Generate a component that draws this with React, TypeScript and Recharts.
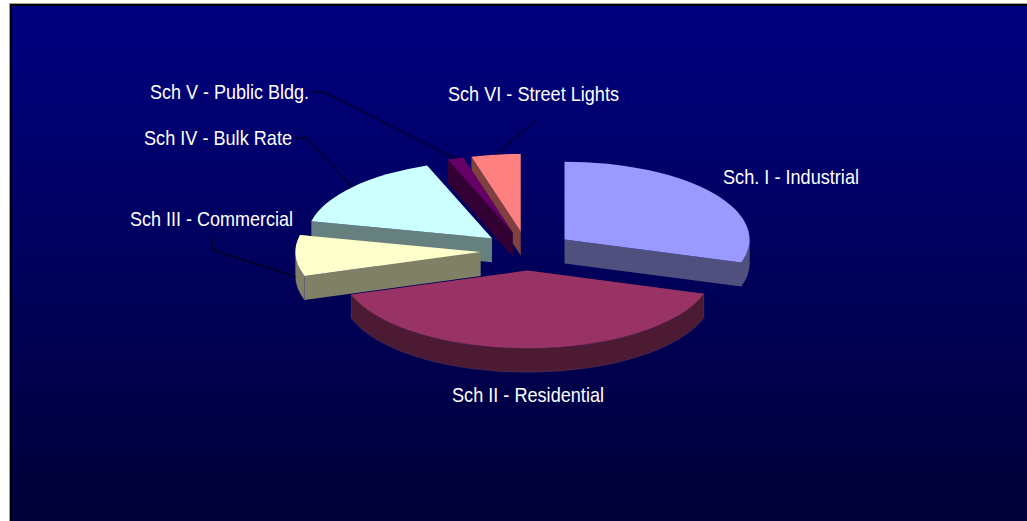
import { PieChart, Pie } from 'recharts';

// Order runs counter-clockwise from 12 o'clock, so back slices paint first
const names = [
    'Sch VI - Street Lights',
    'Sch V - Public Bldg.',
    'Sch IV - Bulk Rate',
    'Sch III - Commercial',
    'Sch II - Residential',
    'Sch. I - Industrial',
];
const shares = [4.3, 1.4, 15.8, 8.5, 40.2, 29.8];
const topColors = ['#ff8080', '#660066', '#ccffff', '#ffffcc', '#993366', '#9999ff'];
const wallColors = ['#804040', '#330033', '#668080', '#808066', '#4d1a33', '#50507f'];

// Label layout: left x, baseline y, width, then the leader elbow if there is one
const labelLayout: Record<string, { x: number; y: number; w: number; line?: number[][] }> = {
    'Sch VI - Street Lights': { x: 448, y: 101, w: 171, line: [[536, 120]] },
    'Sch V - Public Bldg.': { x: 150, y: 99, w: 159, line: [[323, 92], [312, 92]] },
    'Sch IV - Bulk Rate': { x: 144, y: 145, w: 148, line: [[306, 138], [296, 138]] },
    'Sch III - Commercial': { x: 130, y: 226, w: 163, line: [[212, 250], [212, 238]] },
    'Sch II - Residential': { x: 452, y: 402, w: 152 },
    'Sch. I - Industrial': { x: 723, y: 184, w: 136 },
};

const CX = 527;
const CY = 251;
const RX = 185;
const TILT = 0.42;
const DEPTH = 24;
const EXPLODE = 46.6;

const rad = (deg: number) => (deg * Math.PI) / 180;
const project = (deg: number, r: number) => [r * Math.cos(rad(deg)), -r * TILT * Math.sin(rad(deg))];

const chartData = names.map((name, i) => ({
    name,
    value: shares[i],
    fill: topColors[i],
    wall: wallColors[i],
}));

const Slice3D = (props: any) => {
    const { startAngle, endAngle, outerRadius, cx, cy, fill, payload } = props;
    const wall = payload?.wall ?? props.wall;
    const mid = (startAngle + endAngle) / 2;
    const [ox, oy] = project(mid, EXPLODE);
    const ry = outerRadius * TILT;
    const [x1, y1] = project(startAngle, outerRadius);
    const [x2, y2] = project(endAngle, outerRadius);
    const large = endAngle - startAngle > 180 ? 1 : 0;

    const cutWall = (x: number, y: number) => `M0,0 L${x},${y} L${x},${y + DEPTH} L0,${DEPTH} Z`;

    // The rim only shows on the part of the arc that faces the viewer
    const rims: string[] = [];
    [[180, 360], [540, 720]].forEach(([lo, hi]) => {
        const a = Math.max(startAngle, lo);
        const b = Math.min(endAngle, hi);
        if (b <= a) return;
        const [ax, ay] = project(a, outerRadius);
        const [bx, by] = project(b, outerRadius);
        const arcLarge = b - a > 180 ? 1 : 0;
        rims.push(
            `M${ax},${ay} A${outerRadius},${ry} 0 ${arcLarge} 0 ${bx},${by} L${bx},${by + DEPTH} A${outerRadius},${ry} 0 ${arcLarge} 1 ${ax},${ay + DEPTH} Z`
        );
    });

    return (
        <g transform={`translate(${cx + ox},${cy + oy})`}>
            <path d={cutWall(x1, y1)} fill={wall} />
            <path d={cutWall(x2, y2)} fill={wall} />
            {rims.map((d) => (
                <path key={d} d={d} fill={wall} stroke="#6a6a9a" strokeWidth={0.4} strokeOpacity={0.6} />
            ))}
            <path d={`M0,0 L${x1},${y1} A${outerRadius},${ry} 0 ${large} 0 ${x2},${y2} Z`} fill={fill} />
        </g>
    );
};

const SliceLabel = (props: any) => {
    const { cx, cy, midAngle, outerRadius, name, percent } = props;
    const layout = labelLayout[name];
    if (!layout || percent === undefined) return null;
    const [ox, oy] = project(midAngle, EXPLODE);
    const [ex, ey] = project(midAngle, outerRadius);
    const drop = Math.sin(rad(midAngle)) < 0 ? DEPTH - 3 : 0;
    const start = [cx + ox + ex, cy + oy + ey + drop];
    const points = layout.line ? [start, ...layout.line].map((p) => p.join(',')).join(' ') : null;
    return (
        <g>
            {points && <polyline points={points} fill="none" stroke="#000000" strokeWidth={1} />}
            <text
                x={layout.x}
                y={layout.y}
                fill="#ffffff"
                fontFamily="'Liberation Sans', Arial, sans-serif"
                fontSize={21}
                textLength={layout.w}
                lengthAdjust="spacingAndGlyphs"
            >
                {name}
            </text>
        </g>
    );
};

export default function App() {
    return (
        <div style={{ position: 'absolute', left: 0, top: 0, width: 1027, height: 521, overflow: 'hidden', background: '#ffffff' }}>
            <div
                style={{
                    position: 'absolute',
                    left: 10,
                    top: 4,
                    width: 1017,
                    height: 517,
                    boxSizing: 'border-box',
                    borderLeft: '2px solid #000000',
                    borderTop: '2px solid #000000',
                    outline: '1px solid #a0a0a0',
                    background: 'linear-gradient(180deg, #000080 0%, #000038 100%)',
                }}
            />
            <div style={{ position: 'absolute', left: 0, top: 0 }}>
                <PieChart width={1027} height={521} margin={{ top: 0, right: 0, bottom: 0, left: 0 }}>
                    <Pie
                        data={chartData}
                        dataKey="value"
                        nameKey="name"
                        cx={CX}
                        cy={CY}
                        innerRadius={0}
                        outerRadius={RX}
                        startAngle={90}
                        endAngle={450}
                        stroke="none"
                        shape={Slice3D}
                        label={SliceLabel}
                        labelLine={false}
                        isAnimationActive={false}
                    />
                </PieChart>
            </div>
        </div>
    );
}
